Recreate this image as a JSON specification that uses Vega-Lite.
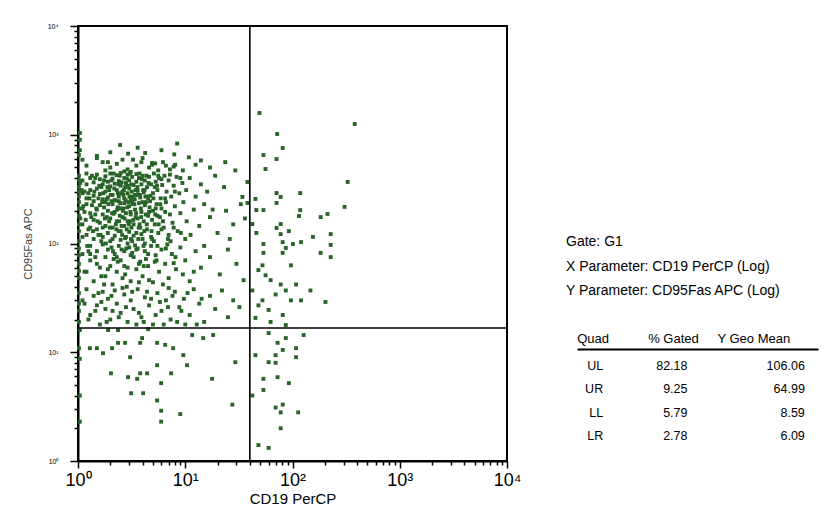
{
 "$schema": "https://vega.github.io/schema/vega-lite/v6.json",
 "padding": {"left": 21, "top": 21, "right": 12, "bottom": 4},
 "background": "white",
 "bounds": "flush",
 "spacing": 59,
 "config": {
  "font": "Liberation Sans",
  "view": {"stroke": null},
  "axis": {"labelFont": "Liberation Sans", "titleFont": "Liberation Sans", "labelColor": "black", "titleColor": "black", "grid": false},
  "title": {"font": "Liberation Sans"},
  "text": {"font": "Liberation Sans"}
 },
 "hconcat": [
  {
   "width": 429,
   "height": 435,
   "view": {"stroke": "black", "strokeWidth": 2},
   "layer": [
    {
     "data": {"values": [
{"cd19":1.04,"cd95":1040},{"cd19":2.47,"cd95":805},{"cd19":8.4,"cd95":830},{"cd19":1.04,"cd95":720},{"cd19":1.5,"cd95":640},{"cd19":1.9,"cd95":560},{"cd19":2.93,"cd95":670},{"cd19":3.26,"cd95":590},{"cd19":4.23,"cd95":680},{"cd19":7.9,"cd95":660},{"cd19":4.91,"cd95":550},{"cd19":5.24,"cd95":545},{"cd19":8.05,"cd95":530},{"cd19":23.6,"cd95":560},{"cd19":1.04,"cd95":900},{"cd19":3.6,"cd95":760},{"cd19":6.0,"cd95":720},{"cd19":2.0,"cd95":690},
{"cd19":1.02,"cd95":650},{"cd19":1.2,"cd95":520},{"cd19":1.5,"cd95":610},{"cd19":1.8,"cd95":470},{"cd19":2.3,"cd95":540},{"cd19":2.6,"cd95":590},{"cd19":2.9,"cd95":480},{"cd19":3.5,"cd95":520},{"cd19":3.9,"cd95":560},{"cd19":4.6,"cd95":500},{"cd19":5.6,"cd95":470},{"cd19":6.2,"cd95":560},{"cd19":7.8,"cd95":510},{"cd19":9.5,"cd95":470},{"cd19":10.8,"cd95":620},{"cd19":12.5,"cd95":530},{"cd19":14,"cd95":580},{"cd19":1.7,"cd95":560},{"cd19":2.0,"cd95":500},{"cd19":2.7,"cd95":460},{"cd19":3.1,"cd95":455},{"cd19":4.0,"cd95":610},{"cd19":4.9,"cd95":530},{"cd19":7.2,"cd95":480},{"cd19":1.1,"cd95":590},{"cd19":6.6,"cd95":520},{"cd19":29.3,"cd95":470},{"cd19":17,"cd95":500},
{"cd19":1.02,"cd95":420},{"cd19":1.02,"cd95":330},{"cd19":1.02,"cd95":270},{"cd19":1.1,"cd95":380},{"cd19":1.1,"cd95":290},{"cd19":1.2,"cd95":440},{"cd19":1.2,"cd95":350},{"cd19":1.2,"cd95":260},{"cd19":1.3,"cd95":400},{"cd19":1.3,"cd95":310},{"cd19":1.4,"cd95":365},{"cd19":1.4,"cd95":275},{"cd19":1.5,"cd95":430},{"cd19":1.5,"cd95":320},{"cd19":1.6,"cd95":390},{"cd19":1.6,"cd95":285},{"cd19":1.7,"cd95":350},{"cd19":1.7,"cd95":255},{"cd19":1.8,"cd95":415},{"cd19":1.8,"cd95":300},{"cd19":1.9,"cd95":370},{"cd19":1.9,"cd95":265},{"cd19":2.0,"cd95":440},{"cd19":2.0,"cd95":335},{"cd19":2.1,"cd95":395},{"cd19":2.1,"cd95":280},{"cd19":2.2,"cd95":355},{"cd19":2.2,"cd95":250},{"cd19":2.3,"cd95":425},{"cd19":2.3,"cd95":310},{"cd19":2.4,"cd95":375},{"cd19":2.4,"cd95":270},{"cd19":2.5,"cd95":445},{"cd19":2.5,"cd95":340},{"cd19":2.6,"cd95":300},{"cd19":2.7,"cd95":400},{"cd19":2.7,"cd95":260},{"cd19":2.8,"cd95":360},{"cd19":2.9,"cd95":430},{"cd19":2.9,"cd95":290},{"cd19":3.0,"cd95":380},{"cd19":3.0,"cd95":320},{"cd19":3.1,"cd95":255},{"cd19":3.2,"cd95":410},{"cd19":3.3,"cd95":345},{"cd19":3.4,"cd95":280},{"cd19":3.5,"cd95":435},{"cd19":3.5,"cd95":370},{"cd19":3.6,"cd95":305},{"cd19":3.7,"cd95":400},{"cd19":3.8,"cd95":265},{"cd19":3.9,"cd95":350},{"cd19":4.0,"cd95":420},{"cd19":4.1,"cd95":295},{"cd19":4.2,"cd95":380},{"cd19":4.4,"cd95":330},{"cd19":4.5,"cd95":260},{"cd19":4.6,"cd95":410},{"cd19":4.8,"cd95":350},{"cd19":5.0,"cd95":290},{"cd19":5.1,"cd95":440},{"cd19":5.3,"cd95":370},{"cd19":5.5,"cd95":310},{"cd19":5.7,"cd95":400},{"cd19":5.9,"cd95":260},{"cd19":6.1,"cd95":345},{"cd19":6.4,"cd95":420},{"cd19":6.7,"cd95":300},{"cd19":7.0,"cd95":380},{"cd19":7.4,"cd95":270},{"cd19":7.8,"cd95":340},{"cd19":8.3,"cd95":410},{"cd19":8.8,"cd95":290},{"cd19":9.4,"cd95":360},{"cd19":10.2,"cd95":310},{"cd19":11.0,"cd95":400},{"cd19":12.5,"cd95":270},{"cd19":14.0,"cd95":350},{"cd19":16,"cd95":300},{"cd19":19,"cd95":420},{"cd19":23,"cd95":330},{"cd19":1.15,"cd95":300},{"cd19":1.35,"cd95":420},{"cd19":1.55,"cd95":260},{"cd19":1.75,"cd95":380},{"cd19":1.95,"cd95":310},{"cd19":2.15,"cd95":440},{"cd19":2.35,"cd95":290},{"cd19":2.55,"cd95":365},{"cd19":2.75,"cd95":330},{"cd19":3.05,"cd95":440},{"cd19":3.25,"cd95":270},{"cd19":3.45,"cd95":310},{"cd19":3.75,"cd95":440},{"cd19":4.05,"cd95":310},{"cd19":4.35,"cd95":420},{"cd19":4.75,"cd95":275},{"cd19":5.2,"cd95":330},{"cd19":5.6,"cd95":420},{"cd19":6.0,"cd95":390},{"cd19":6.5,"cd95":260},{"cd19":7.2,"cd95":430},{"cd19":8.0,"cd95":300},{"cd19":9.0,"cd95":400},{"cd19":1.05,"cd95":360},{"cd19":1.25,"cd95":290},{"cd19":1.45,"cd95":400},{"cd19":1.65,"cd95":330},{"cd19":1.85,"cd95":255},{"cd19":2.05,"cd95":380},{"cd19":2.45,"cd95":420},{"cd19":2.65,"cd95":280},{"cd19":2.85,"cd95":395},{"cd19":3.15,"cd95":350},{"cd19":3.55,"cd95":280},{"cd19":3.95,"cd95":390},{"cd19":4.25,"cd95":270},{"cd19":4.55,"cd95":360},
{"cd19":1.02,"cd95":240},{"cd19":1.02,"cd95":180},{"cd19":1.02,"cd95":130},{"cd19":1.02,"cd95":105},{"cd19":1.1,"cd95":210},{"cd19":1.1,"cd95":150},{"cd19":1.2,"cd95":230},{"cd19":1.2,"cd95":120},{"cd19":1.3,"cd95":190},{"cd19":1.3,"cd95":140},{"cd19":1.4,"cd95":245},{"cd19":1.4,"cd95":165},{"cd19":1.4,"cd95":110},{"cd19":1.5,"cd95":205},{"cd19":1.5,"cd95":135},{"cd19":1.6,"cd95":225},{"cd19":1.6,"cd95":155},{"cd19":1.7,"cd95":185},{"cd19":1.7,"cd95":115},{"cd19":1.8,"cd95":240},{"cd19":1.8,"cd95":145},{"cd19":1.9,"cd95":200},{"cd19":1.9,"cd95":125},{"cd19":2.0,"cd95":170},{"cd19":2.0,"cd95":105},{"cd19":2.1,"cd95":230},{"cd19":2.1,"cd95":140},{"cd19":2.2,"cd95":195},{"cd19":2.2,"cd95":118},{"cd19":2.3,"cd95":160},{"cd19":2.4,"cd95":245},{"cd19":2.4,"cd95":130},{"cd19":2.5,"cd95":210},{"cd19":2.5,"cd95":108},{"cd19":2.6,"cd95":175},{"cd19":2.7,"cd95":235},{"cd19":2.7,"cd95":145},{"cd19":2.8,"cd95":190},{"cd19":2.8,"cd95":115},{"cd19":2.9,"cd95":160},{"cd19":3.0,"cd95":220},{"cd19":3.0,"cd95":128},{"cd19":3.1,"cd95":185},{"cd19":3.2,"cd95":245},{"cd19":3.2,"cd95":105},{"cd19":3.3,"cd95":150},{"cd19":3.4,"cd95":205},{"cd19":3.5,"cd95":125},{"cd19":3.6,"cd95":170},{"cd19":3.7,"cd95":235},{"cd19":3.8,"cd95":140},{"cd19":3.9,"cd95":195},{"cd19":4.0,"cd95":110},{"cd19":4.1,"cd95":160},{"cd19":4.2,"cd95":225},{"cd19":4.4,"cd95":135},{"cd19":4.5,"cd95":180},{"cd19":4.7,"cd95":245},{"cd19":4.8,"cd95":115},{"cd19":5.0,"cd95":200},{"cd19":5.2,"cd95":150},{"cd19":5.4,"cd95":230},{"cd19":5.6,"cd95":125},{"cd19":5.8,"cd95":175},{"cd19":6.0,"cd95":210},{"cd19":6.3,"cd95":140},{"cd19":6.6,"cd95":240},{"cd19":6.9,"cd95":110},{"cd19":7.2,"cd95":185},{"cd19":7.6,"cd95":155},{"cd19":8.0,"cd95":220},{"cd19":8.5,"cd95":130},{"cd19":9.0,"cd95":190},{"cd19":9.6,"cd95":240},{"cd19":10.3,"cd95":160},{"cd19":11.2,"cd95":120},{"cd19":12.0,"cd95":205},{"cd19":13.5,"cd95":145},{"cd19":15,"cd95":230},{"cd19":17,"cd95":175},{"cd19":20,"cd95":125},{"cd19":24,"cd95":200},{"cd19":28,"cd95":150},{"cd19":33,"cd95":230},{"cd19":1.15,"cd95":195},{"cd19":1.35,"cd95":225},{"cd19":1.55,"cd95":120},{"cd19":1.75,"cd95":215},{"cd19":1.95,"cd95":160},{"cd19":2.15,"cd95":188},{"cd19":2.35,"cd95":215},{"cd19":2.55,"cd95":145},{"cd19":2.75,"cd95":112},{"cd19":2.95,"cd95":240},{"cd19":3.15,"cd95":140},{"cd19":3.35,"cd95":230},{"cd19":3.65,"cd95":110},{"cd19":3.85,"cd95":210},{"cd19":4.15,"cd95":130},{"cd19":4.6,"cd95":195},{"cd19":5.1,"cd95":105},{"cd19":5.5,"cd95":180},{"cd19":6.2,"cd95":160},{"cd19":7.0,"cd95":120},{"cd19":1.05,"cd95":170},{"cd19":1.25,"cd95":135},{"cd19":1.45,"cd95":185},{"cd19":1.65,"cd95":105},{"cd19":1.85,"cd95":175},{"cd19":2.05,"cd95":245},{"cd19":2.25,"cd95":150},{"cd19":2.45,"cd95":180},{"cd19":2.65,"cd95":210},{"cd19":2.85,"cd95":135},{"cd19":3.05,"cd95":160},{"cd19":3.45,"cd95":175},{"cd19":3.75,"cd95":150},{"cd19":4.3,"cd95":240},{"cd19":4.9,"cd95":165},{"cd19":5.3,"cd95":210},{"cd19":6.5,"cd95":195},{"cd19":7.8,"cd95":140},{"cd19":10,"cd95":110},{"cd19":18,"cd95":205},{"cd19":26,"cd95":110},{"cd19":36,"cd95":170},
{"cd19":1.08,"cd95":310},{"cd19":1.12,"cd95":220},{"cd19":1.18,"cd95":165},{"cd19":1.22,"cd95":95},{"cd19":1.28,"cd95":260},{"cd19":1.33,"cd95":175},{"cd19":1.38,"cd95":130},{"cd19":1.42,"cd95":300},{"cd19":1.48,"cd95":210},{"cd19":1.52,"cd95":160},{"cd19":1.58,"cd95":340},{"cd19":1.62,"cd95":120},{"cd19":1.68,"cd95":240},{"cd19":1.72,"cd95":290},{"cd19":1.78,"cd95":170},{"cd19":1.82,"cd95":100},{"cd19":1.88,"cd95":330},{"cd19":1.92,"cd95":230},{"cd19":1.98,"cd95":140},{"cd19":2.02,"cd95":280},{"cd19":2.08,"cd95":190},{"cd19":2.12,"cd95":85},{"cd19":2.18,"cd95":320},{"cd19":2.22,"cd95":250},{"cd19":2.28,"cd95":135},{"cd19":2.32,"cd95":205},{"cd19":2.38,"cd95":350},{"cd19":2.42,"cd95":160},{"cd19":2.48,"cd95":235},{"cd19":2.52,"cd95":290},{"cd19":2.58,"cd95":120},{"cd19":2.62,"cd95":200},{"cd19":2.68,"cd95":310},{"cd19":2.72,"cd95":170},{"cd19":2.78,"cd95":250},{"cd19":2.82,"cd95":90},{"cd19":2.88,"cd95":215},{"cd19":2.92,"cd95":340},{"cd19":2.98,"cd95":150},{"cd19":3.02,"cd95":270},{"cd19":3.08,"cd95":195},{"cd19":3.12,"cd95":110},{"cd19":3.18,"cd95":300},{"cd19":3.22,"cd95":230},{"cd19":3.28,"cd95":165},{"cd19":3.38,"cd95":255},{"cd19":3.48,"cd95":190},{"cd19":3.58,"cd95":330},{"cd19":3.68,"cd95":140},{"cd19":3.78,"cd95":280},{"cd19":3.88,"cd95":175},{"cd19":3.98,"cd95":240},{"cd19":4.08,"cd95":95},{"cd19":4.18,"cd95":310},{"cd19":4.28,"cd95":185},{"cd19":4.38,"cd95":150},{"cd19":4.48,"cd95":270},{"cd19":4.65,"cd95":215},{"cd19":4.85,"cd95":130},{"cd19":5.05,"cd95":260},{"cd19":5.25,"cd95":185},{"cd19":5.45,"cd95":340},{"cd19":5.65,"cd95":150},{"cd19":5.85,"cd95":230},{"cd19":1.1,"cd95":115},{"cd19":1.3,"cd95":80},{"cd19":1.5,"cd95":65},{"cd19":1.7,"cd95":140},{"cd19":1.9,"cd95":58},{"cd19":2.1,"cd95":110},{"cd19":2.3,"cd95":75},{"cd19":2.5,"cd95":130},{"cd19":2.7,"cd95":62},{"cd19":2.9,"cd95":100},{"cd19":3.1,"cd95":78},{"cd19":3.3,"cd95":118},{"cd19":3.5,"cd95":88},{"cd19":3.7,"cd95":65},{"cd19":3.9,"cd95":122},{"cd19":4.2,"cd95":100},{"cd19":4.5,"cd95":80},{"cd19":4.9,"cd95":110},{"cd19":5.4,"cd95":70},{"cd19":6.0,"cd95":135},{"cd19":6.6,"cd95":90},{"cd19":7.3,"cd95":105},{"cd19":8.1,"cd95":75},{"cd19":9.1,"cd95":125},{"cd19":1.02,"cd95":150},{"cd19":1.02,"cd95":210},{"cd19":1.02,"cd95":300},{"cd19":1.02,"cd95":380},{"cd19":1.02,"cd95":78},{"cd19":1.02,"cd95":56},{"cd19":1.02,"cd95":28},
{"cd19":1.02,"cd95":90},{"cd19":1.02,"cd95":65},{"cd19":1.02,"cd95":48},{"cd19":1.1,"cd95":80},{"cd19":1.2,"cd95":55},{"cd19":1.3,"cd95":95},{"cd19":1.3,"cd95":70},{"cd19":1.4,"cd95":45},{"cd19":1.5,"cd95":85},{"cd19":1.6,"cd95":60},{"cd19":1.7,"cd95":98},{"cd19":1.8,"cd95":75},{"cd19":1.8,"cd95":50},{"cd19":1.9,"cd95":88},{"cd19":2.0,"cd95":62},{"cd19":2.1,"cd95":42},{"cd19":2.2,"cd95":80},{"cd19":2.3,"cd95":55},{"cd19":2.4,"cd95":95},{"cd19":2.5,"cd95":70},{"cd19":2.6,"cd95":48},{"cd19":2.7,"cd95":85},{"cd19":2.9,"cd95":60},{"cd19":3.0,"cd95":92},{"cd19":3.1,"cd95":45},{"cd19":3.3,"cd95":75},{"cd19":3.5,"cd95":58},{"cd19":3.6,"cd95":90},{"cd19":3.8,"cd95":68},{"cd19":4.0,"cd95":50},{"cd19":4.2,"cd95":85},{"cd19":4.5,"cd95":62},{"cd19":4.8,"cd95":95},{"cd19":5.0,"cd95":44},{"cd19":5.3,"cd95":78},{"cd19":5.7,"cd95":55},{"cd19":6.0,"cd95":88},{"cd19":6.5,"cd95":65},{"cd19":7.0,"cd95":48},{"cd19":7.5,"cd95":80},{"cd19":8.2,"cd95":58},{"cd19":9.0,"cd95":92},{"cd19":10,"cd95":70},{"cd19":11,"cd95":45},{"cd19":12.5,"cd95":85},{"cd19":14,"cd95":60},{"cd19":17,"cd95":75},{"cd19":21,"cd95":52},{"cd19":25,"cd95":88},{"cd19":30,"cd95":65},{"cd19":35,"cd95":46},{"cd19":1.15,"cd95":55},{"cd19":1.45,"cd95":75},{"cd19":1.75,"cd95":42},{"cd19":2.05,"cd95":92},{"cd19":2.35,"cd95":68},{"cd19":2.75,"cd95":52},{"cd19":3.2,"cd95":82},{"cd19":3.7,"cd95":44},{"cd19":4.3,"cd95":72},{"cd19":5.5,"cd95":95},{"cd19":6.2,"cd95":42},{"cd19":7.8,"cd95":66},{"cd19":9.5,"cd95":52},{"cd19":1.25,"cd95":85},{"cd19":1.65,"cd95":50},{"cd19":2.15,"cd95":72},{"cd19":2.55,"cd95":88},{"cd19":2.85,"cd95":40},{"cd19":3.4,"cd95":96},{"cd19":4.1,"cd95":62},{"cd19":4.6,"cd95":46},{"cd19":5.2,"cd95":68},{"cd19":6.8,"cd95":98},{"cd19":12,"cd95":55},{"cd19":15,"cd95":95},
{"cd19":1.02,"cd95":35},{"cd19":1.02,"cd95":24},{"cd19":1.02,"cd95":19},{"cd19":1.1,"cd95":30},{"cd19":1.2,"cd95":38},{"cd19":1.3,"cd95":22},{"cd19":1.4,"cd95":33},{"cd19":1.5,"cd95":27},{"cd19":1.6,"cd95":18},{"cd19":1.7,"cd95":36},{"cd19":1.8,"cd95":25},{"cd19":1.9,"cd95":31},{"cd19":2.0,"cd95":20},{"cd19":2.2,"cd95":37},{"cd19":2.3,"cd95":28},{"cd19":2.5,"cd95":23},{"cd19":2.7,"cd95":34},{"cd19":2.9,"cd95":19},{"cd19":3.1,"cd95":30},{"cd19":3.3,"cd95":25},{"cd19":3.6,"cd95":38},{"cd19":3.9,"cd95":21},{"cd19":4.2,"cd95":32},{"cd19":4.6,"cd95":27},{"cd19":5.0,"cd95":18},{"cd19":5.5,"cd95":35},{"cd19":6.0,"cd95":24},{"cd19":6.6,"cd95":30},{"cd19":7.3,"cd95":20},{"cd19":8.0,"cd95":36},{"cd19":8.8,"cd95":26},{"cd19":9.7,"cd95":31},{"cd19":11,"cd95":22},{"cd19":12,"cd95":38},{"cd19":13.5,"cd95":28},{"cd19":15,"cd95":19},{"cd19":17,"cd95":33},{"cd19":19,"cd95":25},{"cd19":22,"cd95":37},{"cd19":25,"cd95":21},{"cd19":28,"cd95":30},{"cd19":32,"cd95":26},{"cd19":1.15,"cd95":28},{"cd19":1.55,"cd95":35},{"cd19":2.1,"cd95":24},{"cd19":2.6,"cd95":39},{"cd19":3.5,"cd95":18},{"cd19":4.4,"cd95":36},{"cd19":5.8,"cd95":29},{"cd19":7.0,"cd95":39},{"cd19":10,"cd95":18},
{"cd19":1.25,"cd95":20},{"cd19":1.45,"cd95":24},{"cd19":1.65,"cd95":29},{"cd19":1.85,"cd95":19},{"cd19":2.05,"cd95":33},{"cd19":2.4,"cd95":21},{"cd19":2.8,"cd95":26},{"cd19":3.2,"cd95":36},{"cd19":3.7,"cd95":23},{"cd19":4.1,"cd95":19},{"cd19":4.8,"cd95":31},{"cd19":5.3,"cd95":22},{"cd19":6.3,"cd95":18},{"cd19":6.9,"cd95":26},{"cd19":7.6,"cd95":33},{"cd19":8.4,"cd95":19},{"cd19":9.2,"cd95":24},{"cd19":10.5,"cd95":35},{"cd19":12.8,"cd95":18},{"cd19":14.2,"cd95":31},
{"cd19":1.04,"cd95":16},{"cd19":1.29,"cd95":10.9},{"cd19":1.5,"cd95":10.9},{"cd19":1.71,"cd95":9.8},{"cd19":2.08,"cd95":10.9},{"cd19":2.36,"cd95":12.2},{"cd19":2.75,"cd95":12.2},{"cd19":3.06,"cd95":9.0},{"cd19":3.8,"cd95":12.2},{"cd19":3.96,"cd95":13.5},{"cd19":5.47,"cd95":12.2},{"cd19":5.47,"cd95":7.6},{"cd19":6.5,"cd95":11.7},{"cd19":7.71,"cd95":10.9},{"cd19":9.59,"cd95":9.4},{"cd19":10.4,"cd95":7.6},{"cd19":11.6,"cd95":14.4},{"cd19":14.7,"cd95":13.5},{"cd19":18.2,"cd95":14.4},{"cd19":29.3,"cd95":8.1},{"cd19":17.8,"cd95":5.7},{"cd19":2.03,"cd95":6.4},{"cd19":3.8,"cd95":6.4},{"cd19":4.41,"cd95":6.4},{"cd19":2.93,"cd95":5.9},{"cd19":3.56,"cd95":5.7},{"cd19":5.96,"cd95":5.2},{"cd19":7.39,"cd95":6.4},{"cd19":1.04,"cd95":8.7},{"cd19":1.04,"cd95":4.0},{"cd19":1.04,"cd95":2.3},{"cd19":3.13,"cd95":4.2},{"cd19":4.05,"cd95":4.2},{"cd19":5.47,"cd95":3.6},{"cd19":5.96,"cd95":2.9},{"cd19":5.96,"cd95":2.3},{"cd19":8.98,"cd95":2.7},{"cd19":27.5,"cd95":3.3},{"cd19":1.02,"cd95":10.9},{"cd19":1.91,"cd95":16},{"cd19":2.36,"cd95":16},{"cd19":4.51,"cd95":16.3},
{"cd19":49.2,"cd95":1585},{"cd19":380,"cd95":1256},{"cd19":72,"cd95":1016},{"cd19":81,"cd95":755},{"cd19":53.6,"cd95":651},{"cd19":71,"cd95":598},{"cd19":56,"cd95":484},{"cd19":38,"cd95":368},{"cd19":327,"cd95":368},{"cd19":71,"cd95":291},{"cd19":118,"cd95":291},{"cd19":77.6,"cd95":268},{"cd19":45.1,"cd95":257},{"cd19":34.1,"cd95":268},{"cd19":38,"cd95":236},{"cd19":71,"cd95":236},{"cd19":306,"cd95":217},{"cd19":46,"cd95":203},{"cd19":53.6,"cd95":203},{"cd19":118,"cd95":203},{"cd19":115,"cd95":179},{"cd19":212,"cd95":187},{"cd19":183,"cd95":175},{"cd19":42.2,"cd95":151},{"cd19":71,"cd95":139},{"cd19":77.6,"cd95":151},{"cd19":92.5,"cd95":130},{"cd19":46,"cd95":125},{"cd19":77.6,"cd95":122},{"cd19":155,"cd95":115},{"cd19":227,"cd95":122},{"cd19":101,"cd95":99},{"cd19":120,"cd95":103},{"cd19":53.6,"cd95":99},{"cd19":81,"cd95":103},{"cd19":227,"cd95":97},{"cd19":53.6,"cd95":82},{"cd19":81,"cd95":82},{"cd19":183,"cd95":82},{"cd19":227,"cd95":75},{"cd19":86.6,"cd95":91},
{"cd19":48.1,"cd95":57},{"cd19":56.1,"cd95":51},{"cd19":62.5,"cd95":46},{"cd19":77.6,"cd95":42},{"cd19":86.6,"cd95":37},{"cd19":69.6,"cd95":34},{"cd19":52.5,"cd95":30},{"cd19":96.7,"cd95":30},{"cd19":48.1,"cd95":27},{"cd19":59.9,"cd95":24.5},{"cd19":81.1,"cd95":22},{"cd19":120,"cd95":30},{"cd19":203,"cd95":29},{"cd19":52.5,"cd95":63},{"cd19":96.7,"cd95":63},{"cd19":108,"cd95":42},{"cd19":42.2,"cd95":37},{"cd19":45.1,"cd95":20.7},{"cd19":62.5,"cd95":19},{"cd19":86.6,"cd95":17.8},{"cd19":147,"cd95":37},
{"cd19":59.9,"cd95":15},{"cd19":86.6,"cd95":13.5},{"cd19":72.6,"cd95":12.2},{"cd19":81.1,"cd95":10.5},{"cd19":108,"cd95":10.9},{"cd19":127,"cd95":14.4},{"cd19":45.1,"cd95":9.4},{"cd19":69.6,"cd95":9.4},{"cd19":59.9,"cd95":8.1},{"cd19":69.6,"cd95":8.0},{"cd19":108,"cd95":9.0},{"cd19":53.6,"cd95":5.7},{"cd19":72.6,"cd95":5.9},{"cd19":92.5,"cd95":5.2},{"cd19":53.6,"cd95":4.5},{"cd19":42.2,"cd95":4.0},{"cd19":81.1,"cd95":3.3},{"cd19":69.6,"cd95":3.1},{"cd19":77.6,"cd95":2.8},{"cd19":113,"cd95":2.8},{"cd19":77.6,"cd95":2.0},{"cd19":48.1,"cd95":1.4},{"cd19":59.9,"cd95":1.32}
     ]},
     "mark": {"type": "point", "shape": "square", "filled": true, "size": 15, "color": "#286328", "opacity": 1, "strokeWidth": 0},
     "encoding": {
      "x": {
       "field": "cd19", "type": "quantitative", "title": "CD19 PerCP",
       "scale": {"type": "log", "domain": [1, 10000], "nice": false},
       "axis": {
        "values": [1,2,3,4,5,6,7,8,9,10,20,30,40,50,60,70,80,90,100,200,300,400,500,600,700,800,900,1000,2000,3000,4000,5000,6000,7000,8000,9000,10000],
        "labelExpr": "indexof([1,10,100,1000,10000], datum.value) >= 0 ? '10' + ['⁰','¹','²','³','⁴'][round(log(datum.value)/LN10)] : ''",
        "tickSize": {"condition": {"test": "indexof([1,10,100,1000,10000], datum.value) >= 0", "value": 7}, "value": 4},
        "tickColor": "black", "tickWidth": 1.5, "domainColor": "black", "domainWidth": 2,
        "labelFontSize": 18, "labelPadding": 3, "labelFlush": false, "labelOverlap": false,
        "titleFontSize": 15, "titleFontWeight": "normal", "titlePadding": 2
       }
      },
      "y": {
       "field": "cd95", "type": "quantitative", "title": "CD95Fas APC",
       "scale": {"type": "log", "domain": [1, 10000], "nice": false},
       "axis": {
        "values": [1,2,3,4,5,6,7,8,9,10,20,30,40,50,60,70,80,90,100,200,300,400,500,600,700,800,900,1000,2000,3000,4000,5000,6000,7000,8000,9000,10000],
        "labelExpr": "indexof([1,10,100,1000,10000], datum.value) >= 0 ? '10' + ['⁰','¹','²','³','⁴'][round(log(datum.value)/LN10)] : ''",
        "tickSize": {"condition": {"test": "indexof([1,10,100,1000,10000], datum.value) >= 0", "value": 8}, "value": 4},
        "tickColor": "black", "tickWidth": 1.5, "domainColor": "black", "domainWidth": 2,
        "labelFontSize": 7, "labelPadding": 12, "labelFlush": false, "labelOverlap": false,
        "titleFontSize": 11, "titleFontWeight": "normal", "titleColor": "#444444", "titlePadding": 14
       }
      }
     }
    },
    {
     "data": {"values": [{"cd19Gate": 40, "cd95Gate": 16.7}]},
     "mark": {"type": "rule", "color": "black", "strokeWidth": 1.6},
     "encoding": {"x": {"field": "cd19Gate", "type": "quantitative", "title": "CD19 PerCP"}}
    },
    {
     "data": {"values": [{"cd19Gate": 40, "cd95Gate": 16.7}]},
     "mark": {"type": "rule", "color": "black", "strokeWidth": 1.6},
     "encoding": {"y": {"field": "cd95Gate", "type": "quantitative", "title": "CD95Fas APC"}}
    }
   ]
  },
  {
   "width": 252,
   "height": 435,
   "title": {
    "text": ["Gate: G1", "X Parameter: CD19 PerCP (Log)", "Y Parameter: CD95Fas APC (Log)"],
    "anchor": "start", "frame": "group", "orient": "top", "offset": -286,
    "baseline": "bottom", "fontSize": 14, "fontWeight": "normal", "lineHeight": 24.5, "color": "black"
   },
   "data": {"values": [
    {"quad": "UL", "gated": 82.18, "geomean": 106.06},
    {"quad": "UR", "gated": 9.25, "geomean": 64.99},
    {"quad": "LL", "gated": 5.79, "geomean": 8.59},
    {"quad": "LR", "gated": 2.78, "geomean": 6.09}
   ]},
   "layer": [
    {
     "mark": {"type": "text", "align": "right", "baseline": "middle", "fontSize": 12.5, "color": "black", "dx": -14},
     "encoding": {
      "x": {"datum": "Quad", "type": "nominal",
       "scale": {"type": "band", "domain": ["Quad", "% Gated", "Y Geo Mean"], "range": [11, 252], "paddingInner": 0, "paddingOuter": 0},
       "axis": {"orient": "top", "offset": -323, "title": null, "ticks": false, "domainColor": "black", "domainWidth": 2,
        "labelFontSize": 13, "labelPadding": 4, "labelOffset": -24, "labelAngle": 0, "labelAlign": "center"}},
      "y": {"field": "quad", "type": "nominal", "sort": ["UL", "UR", "LL", "LR"],
       "scale": {"type": "point", "range": [340, 410], "padding": 0}, "axis": null},
      "text": {"field": "quad"}
     }
    },
    {
     "mark": {"type": "text", "align": "right", "baseline": "middle", "fontSize": 12.5, "color": "black", "dx": -10},
     "encoding": {
      "x": {"datum": "% Gated", "type": "nominal"},
      "y": {"field": "quad", "type": "nominal", "sort": ["UL", "UR", "LL", "LR"]},
      "text": {"field": "gated", "format": ".2f"}
     }
    },
    {
     "mark": {"type": "text", "align": "right", "baseline": "middle", "fontSize": 12.5, "color": "black", "dx": 27},
     "encoding": {
      "x": {"datum": "Y Geo Mean", "type": "nominal"},
      "y": {"field": "quad", "type": "nominal", "sort": ["UL", "UR", "LL", "LR"]},
      "text": {"field": "geomean", "format": ".2f"}
     }
    }
   ]
  }
 ]
}
